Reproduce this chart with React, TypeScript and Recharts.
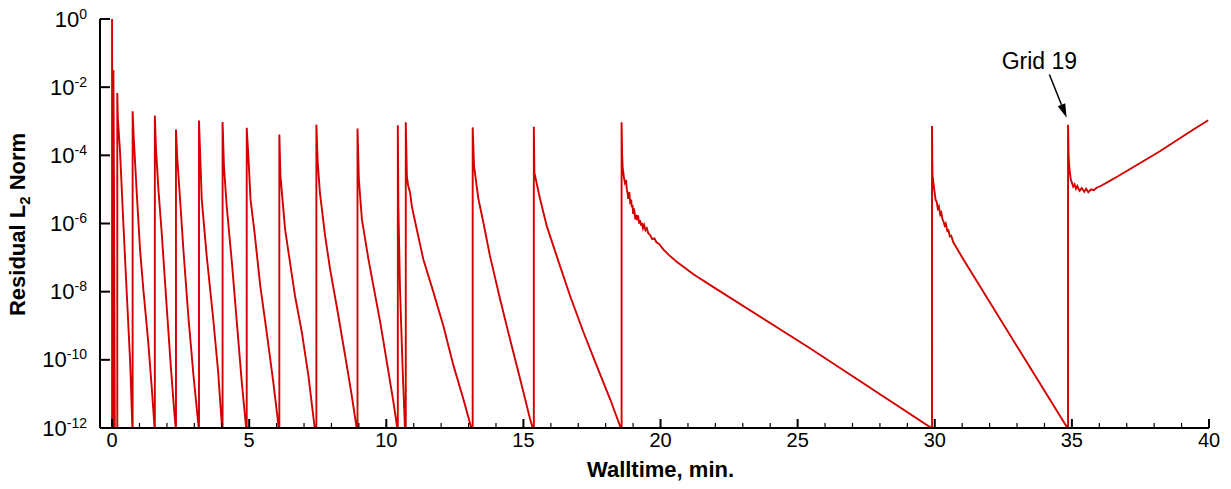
import React from 'react';
import { LineChart, Line, XAxis, YAxis, ReferenceLine, Label } from 'recharts';

type Pt = [number, number]; // [walltime in min, log10 of residual]

// one array per grid level
const grid01: Pt[] = [[0, -12], [0, 0], [0.02, -12]];
const grid02: Pt[] = [[0.05, -12], [0.05, -1.5], [0.07, -5], [0.1, -12]];
const grid03: Pt[] = [[0.19, -12], [0.19, -2.17], [0.21, -2.9], [0.29, -3.88], [0.41, -5.97], [0.54, -8.12], [0.66, -10.06], [0.74, -12]];
const grid04: Pt[] = [[0.75, -12], [0.75, -2.71], [0.79, -3.48], [0.9, -5.1], [1.02, -6.76], [1.14, -7.93], [1.32, -9.49], [1.45, -10.85], [1.55, -12]];
const grid05: Pt[] = [[1.56, -12], [1.56, -2.83], [1.6, -3.78], [1.69, -5.0], [1.81, -6.27], [1.99, -8.42], [2.14, -10.17], [2.26, -11.44], [2.32, -12]];
const grid06: Pt[] = [[2.33, -12], [2.33, -3.24], [2.38, -4.12], [2.48, -5.29], [2.6, -6.76], [2.78, -8.71], [2.97, -10.47], [3.16, -12]];
const grid07: Pt[] = [[3.17, -12], [3.17, -2.98], [3.21, -3.92], [3.27, -5.29], [3.45, -6.95], [3.69, -8.81], [3.87, -10.37], [4.01, -12]];
const grid08: Pt[] = [[4.03, -12], [4.03, -3.02], [4.08, -4.32], [4.18, -5.49], [4.37, -7.15], [4.55, -8.9], [4.73, -10.66], [4.89, -12]];
const grid09: Pt[] = [[4.91, -12], [4.91, -3.19], [4.97, -4.02], [5.05, -5.3], [5.2, -6.3], [5.4, -7.8], [5.64, -9.2], [5.88, -10.66], [6.08, -12]];
const grid10: Pt[] = [[6.1, -12], [6.1, -3.39], [6.14, -4.61], [6.31, -6.17], [6.49, -7.15], [6.67, -8.12], [6.92, -9.19], [7.16, -10.47], [7.39, -12]];
const grid11: Pt[] = [[7.45, -12], [7.45, -3.1], [7.5, -4.22], [7.58, -5.1], [7.77, -6.37], [7.95, -7.34], [8.19, -8.42], [8.5, -9.88], [8.74, -11.05], [8.92, -12]];
const grid12: Pt[] = [[8.95, -12], [8.95, -3.21], [9.0, -4.71], [9.11, -5.88], [9.35, -7.05], [9.53, -7.83], [9.78, -8.9], [10.02, -10.07], [10.26, -11.24], [10.4, -12]];
const grid13: Pt[] = [[10.42, -12], [10.42, -3.12], [10.44, -5.49], [10.5, -7.93], [10.6, -10.37], [10.68, -12]];
const grid14: Pt[] = [[10.71, -12], [10.71, -3.03], [10.75, -4.61], [10.8, -4.9], [10.87, -5.1], [10.93, -5.49], [11.11, -6.17], [11.35, -7.05], [11.72, -8.02], [12.08, -9.0], [12.45, -10.17], [12.81, -11.15], [13.1, -12]];
const grid15: Pt[] = [[13.15, -12], [13.15, -3.18], [13.2, -4.32], [13.36, -5.29], [13.54, -5.97], [13.78, -6.95], [14.15, -8.22], [14.51, -9.39], [14.88, -10.56], [15.24, -11.73], [15.34, -12]];
const grid16: Pt[] = [[15.38, -12], [15.38, -3.16], [15.4, -4.51], [15.61, -5.29], [15.85, -6.07], [16.21, -6.95], [16.7, -8.12], [17.19, -9.19], [17.67, -10.17], [18.16, -11.15], [18.55, -12]];
const grid17: Pt[] = [
  [18.58, -12], [18.58, -3.03], [18.6, -4.0], [18.62, -4.36], [18.66, -4.62], [18.7, -4.8], [18.74, -4.72],
  [18.77, -5.0], [18.8, -5.12], [18.82, -5.28], [18.86, -5.08], [18.9, -5.44], [18.93, -5.3], [18.95, -5.52],
  [18.98, -5.46], [19.0, -5.72], [19.03, -5.56], [19.05, -5.66], [19.08, -5.88], [19.1, -5.74], [19.14, -5.9],
  [19.18, -5.76], [19.22, -6.0], [19.25, -5.9], [19.29, -6.06], [19.32, -5.98], [19.36, -6.14], [19.4, -6.04],
  [19.45, -6.2], [19.5, -6.14], [19.55, -6.28], [19.62, -6.34], [19.7, -6.46], [19.78, -6.44], [19.85, -6.55],
  [19.95, -6.6], [20.1, -6.76], [20.3, -6.92], [20.59, -7.12], [21.2, -7.49], [21.8, -7.8], [25.45, -9.66],
  [29.88, -12],
];
const grid18: Pt[] = [
  [29.9, -12], [29.9, -3.14], [29.91, -4.2], [29.92, -4.61], [29.98, -5.0], [30.03, -5.3], [30.07, -5.36],
  [30.11, -5.56], [30.15, -5.5], [30.2, -5.74], [30.24, -5.68], [30.28, -5.88], [30.31, -5.92], [30.36, -6.06],
  [30.4, -6.0], [30.46, -6.22], [30.5, -6.2], [30.55, -6.38], [30.6, -6.36], [30.68, -6.56], [30.8, -6.72],
  [30.9, -6.86], [31.04, -7.05], [33.11, -9.75], [34.84, -12],
];
const grid19: Pt[] = [
  [34.86, -12], [34.86, -3.1], [34.88, -4.0], [34.91, -4.41], [34.96, -4.7], [35.0, -4.8], [35.05, -4.92],
  [35.1, -4.85], [35.15, -4.98], [35.2, -4.9], [35.28, -5.04], [35.36, -4.96], [35.45, -5.07], [35.52, -4.98],
  [35.6, -5.08], [35.7, -5.0], [35.8, -5.02], [35.9, -4.95], [36.05, -4.9], [36.27, -4.8], [36.6, -4.65],
  [37.0, -4.46], [38.21, -3.88], [39.43, -3.24], [39.97, -2.97],
];

const xTicks = [
  0, 1, 2, 3, 4, 5, 6, 7, 8, 9, 10, 11, 12, 13, 14, 15, 16, 17, 18, 19, 20,
  21, 22, 23, 24, 25, 26, 27, 28, 29, 30, 31, 32, 33, 34, 35, 36, 37, 38, 39, 40,
];
const yTickExps = [-12, -10, -8, -6, -4, -2, 0];

// "Grid 19" arrow: tail and tip as [walltime, log10 residual]
const arrowTail: Pt = [34.18, -1.63];
const arrowTip: Pt = [34.81, -2.9];
const annotationText = 'Grid 19';

const grids = [
  grid01, grid02, grid03, grid04, grid05, grid06, grid07, grid08, grid09, grid10,
  grid11, grid12, grid13, grid14, grid15, grid16, grid17, grid18, grid19,
];
const data = grids.flat().map(([t, e]) => ({ t, r: Math.pow(10, e) }));

const FONT = '"Liberation Sans", Arial, Helvetica, sans-serif';
const RED = '#d40000';

const XTick = ({ x, y, payload }: any) => {
  const v = payload.value;
  const major = v % 5 === 0;
  return (
    <g>
      <line x1={x} x2={x} y1={y} y2={y - (major ? 9 : 5)} stroke="#000" strokeWidth={major ? 2 : 1.2} />
      {major && (
        <text x={x} y={y + 19} textAnchor="middle" fontSize={20} fontFamily={FONT} fill="#000">
          {v}
        </text>
      )}
    </g>
  );
};

const YTick = ({ x, y, payload }: any) => {
  const e = Math.round(Math.log10(payload.value));
  return (
    <g>
      <line x1={x} x2={x + 10} y1={y} y2={y} stroke="#000" strokeWidth={2} />
      <text x={x - 13} y={y + 7.5} textAnchor="end" fontSize={22} fontFamily={FONT} fill="#000">
        10
        <tspan dy={-8} fontSize={14}>{e}</tspan>
      </text>
    </g>
  );
};

const ArrowShape = (p: any) => {
  const { x1, y1, x2, y2 } = p;
  if (x1 == null) return null;
  const ang = Math.atan2(y2 - y1, x2 - x1);
  const len = 14;
  const half = 4;
  const bx = x2 - len * Math.cos(ang);
  const by = y2 - len * Math.sin(ang);
  const px = -Math.sin(ang) * half;
  const py = Math.cos(ang) * half;
  return (
    <g>
      <line x1={x1} y1={y1} x2={bx} y2={by} stroke="#000" strokeWidth={1.5} />
      <polygon points={`${x2},${y2} ${bx + px},${by + py} ${bx - px},${by - py}`} fill="#000" />
      <text x={x1 - 10} y={y1 - 6} textAnchor="middle" fontSize={23} fontFamily={FONT} fill="#000">
        {annotationText}
      </text>
    </g>
  );
};

const XTitle = ({ viewBox }: any) => (
  <text
    x={viewBox.x + viewBox.width / 2 + 6}
    y={viewBox.y + 49}
    textAnchor="middle"
    fontSize={22}
    fontWeight="bold"
    fontFamily={FONT}
    fill="#000"
  >
    Walltime, min.
  </text>
);

const YTitle = ({ viewBox }: any) => {
  const cx = 25;
  const cy = viewBox.y + viewBox.height / 2 + 1;
  return (
    <text
      x={cx}
      y={cy}
      transform={`rotate(-90 ${cx} ${cy})`}
      textAnchor="middle"
      fontSize={22}
      fontWeight="bold"
      fontFamily={FONT}
      fill="#000"
    >
      Residual L<tspan dy={5} fontSize={15}>2</tspan>
      <tspan dy={-5}> Norm</tspan>
    </text>
  );
};

export default function App() {
  return (
    <div style={{ position: 'absolute', left: 0, top: 0, background: '#fff' }}>
      <LineChart width={1231} height={489} data={data} margin={{ top: 19, right: 22, left: 0, bottom: 0 }}>
        <XAxis
          type="number"
          dataKey="t"
          domain={[-0.44, 40]}
          ticks={xTicks}
          interval={0}
          height={61}
          tickSize={0}
          tickMargin={0}
          tickLine={false}
          axisLine={{ stroke: '#000', strokeWidth: 2 }}
          tick={<XTick />}
        >
          <Label content={<XTitle />} />
        </XAxis>
        <YAxis
          type="number"
          scale="log"
          domain={[1e-12, 1]}
          ticks={yTickExps.map((e) => Math.pow(10, e))}
          interval={0}
          width={100}
          tickSize={0}
          tickMargin={0}
          tickLine={false}
          axisLine={{ stroke: '#000', strokeWidth: 2 }}
          tick={<YTick />}
        >
          <Label content={<YTitle />} />
        </YAxis>
        <Line
          type="linear"
          dataKey="r"
          stroke={RED}
          strokeWidth={1.9}
          dot={false}
          activeDot={false}
          isAnimationActive={false}
        />
        <ReferenceLine
          segment={[
            { x: arrowTail[0], y: Math.pow(10, arrowTail[1]) },
            { x: arrowTip[0], y: Math.pow(10, arrowTip[1]) },
          ]}
          ifOverflow="visible"
          shape={ArrowShape}
        />
      </LineChart>
    </div>
  );
}
